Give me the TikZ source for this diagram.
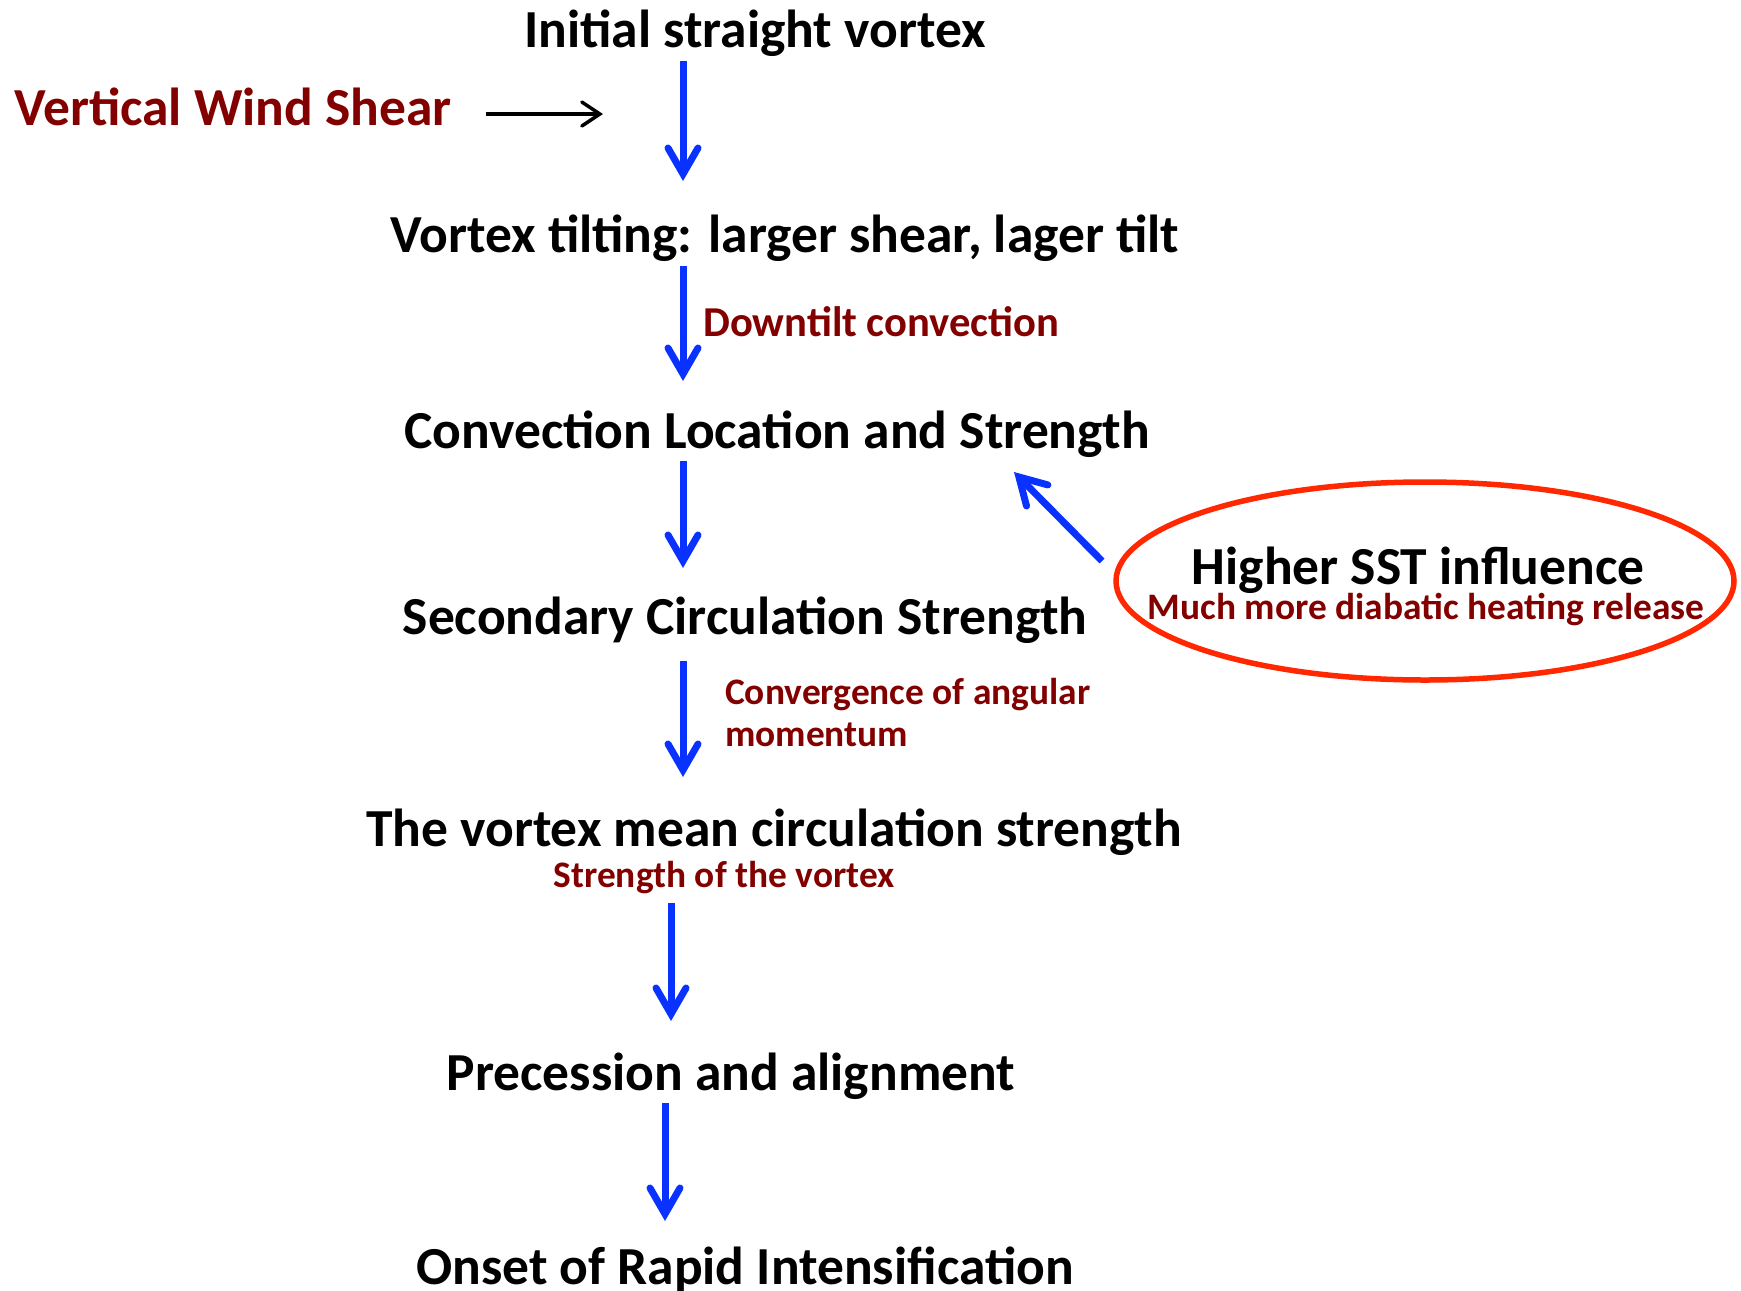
\documentclass[tikz,border=0pt]{standalone}
\usepackage{fontspec}
\setmainfont{Carlito}
\usetikzlibrary{arrows.meta,shapes.geometric}
\definecolor{flowblue}{RGB}{10,50,255}
\definecolor{labred}{RGB}{130,0,0}
\definecolor{ovalred}{RGB}{255,40,0}
\tikzset{
  main/.style={font=\bfseries\fontsize{53.5}{58}\selectfont, inner sep=0pt, anchor=center},
  sub/.style={font=\bfseries\fontsize{37.4}{42}\selectfont, text=labred, inner sep=0pt},
  flowtip/.tip={Straight Barb[length=26pt,width=30pt,line cap=round,line join=miter]},
  flow/.style={draw=flowblue, line width=7pt, arrows={-flowtip}},
  shear/.style={draw=black, line width=3.5pt, arrows={-Straight Barb[length=18pt,width=24pt,line cap=round,line join=miter]}},
}
\begin{document}
\begin{tikzpicture}[x=1pt,y=-1pt]
\useasboundingbox (0,0) rectangle (1741,1291);
\node[main] (n1) at (755,33.5) {Initial straight vortex};
\node[main] (n2) at (785,238.5) {Vortex tilting: larger shear, lager tilt};
\node[main] (n3) at (777,434.5) {Convection Location and Strength};
\node[main] (n4) at (745,620.5) {Secondary Circulation Strength};
\node[main] (n5) at (774,832) {The vortex mean circulation strength};
\node[main] (n6) at (731,1076) {Precession and alignment};
\node[main, anchor=base, text depth=0pt] (n7) at (745,1284) {Onset of Rapid Intensification};
\node[main, text=labred] (vws) at (233,106.5) {Vertical Wind Shear};
\node[sub, anchor=west, font=\bfseries\fontsize{42.6}{46}\selectfont] (dt) at (703,322) {Downtilt convection};
\node[sub, anchor=north west, align=left] (conv) at (725,678.5) {Convergence of angular\\momentum};
\node[sub] (sv) at (724,877.5) {Strength of the vortex};
\node[draw=ovalred, line width=5.5pt, ellipse, minimum width=618pt, minimum height=198pt] (oval) at (1425,581) {};
\node[main, anchor=base, text depth=0pt] (sst) at (1418,584) {Higher SST influence};
\node[sub] (dh) at (1426,609.5) {Much more diabatic heating release};
\coordinate (ws1) at (486,114);
\coordinate (ws2) at (603,114);
\draw[shear] (ws1) -- (ws2);
\coordinate (d1) at (1102,561);
\coordinate (d2) at (1014,472);
\draw[flow] (d1) -- (d2);
\coordinate (a1s) at (683,61);   \coordinate (a1e) at (683,181);
\coordinate (a2s) at (683,266);  \coordinate (a2e) at (683,381);
\coordinate (a3s) at (683,461);  \coordinate (a3e) at (683,568);
\coordinate (a4s) at (683,661);  \coordinate (a4e) at (683,777);
\coordinate (a5s) at (671,903);  \coordinate (a5e) at (671,1021);
\coordinate (a6s) at (665,1103); \coordinate (a6e) at (665,1221);
\draw[flow] (a1s) -- (a1e);
\draw[flow] (a2s) -- (a2e);
\draw[flow] (a3s) -- (a3e);
\draw[flow] (a4s) -- (a4e);
\draw[flow] (a5s) -- (a5e);
\draw[flow] (a6s) -- (a6e);
\end{tikzpicture}
\end{document}
